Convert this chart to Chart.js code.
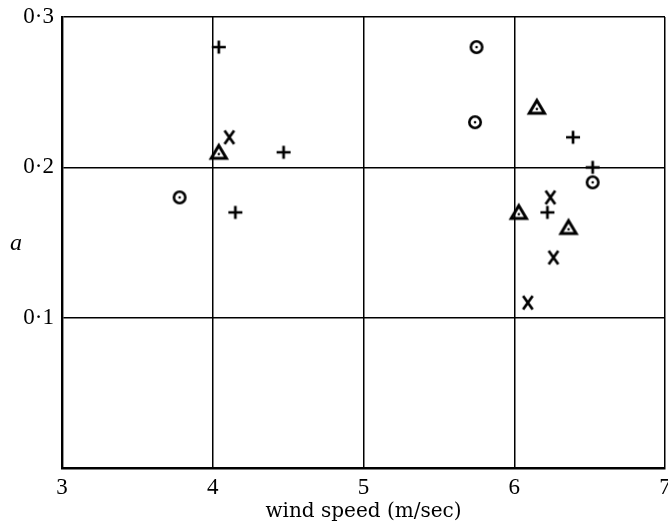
<!DOCTYPE html>
<html>
<head>
<meta charset="utf-8">
<script src="https://cdn.jsdelivr.net/npm/chart.js@4"></script>
<style>
  html, body { margin: 0; padding: 0; background: #fff; }
  #wrap { width: 668px; height: 528px; position: relative; }
</style>
</head>
<body>
<div id="wrap"><canvas id="c"></canvas></div>
<script>
// ---- data ----
const xTickValues = [3, 4, 5, 6, 7];
const yTickLabels = ['', '0·1', '0·2', '0·3'];
const xTitle = 'wind speed (m/sec)';
const yTitle = 'a';

const plusX = [4.04, 4.47, 4.15, 6.39, 6.52, 6.22];
const plusY = [0.28, 0.21, 0.17, 0.22, 0.20, 0.17];

const crossX = [4.11, 6.24, 6.26, 6.09];
const crossY = [0.22, 0.18, 0.14, 0.11];

const circleX = [3.78, 5.75, 5.74, 6.52];
const circleY = [0.18, 0.28, 0.23, 0.19];

const triX = [4.04, 6.15, 6.03, 6.36];
const triY = [0.21, 0.24, 0.17, 0.16];

// ---- marker glyphs ----
function makeMarker(kind) {
  const s = 22;
  const cv = document.createElement('canvas');
  cv.width = s; cv.height = s;
  const g = cv.getContext('2d');
  g.strokeStyle = '#000';
  g.fillStyle = '#000';
  g.lineCap = 'butt';
  const c = s / 2;
  if (kind === 'plus') {
    g.lineWidth = 2.7;
    g.beginPath();
    g.moveTo(c - 7, c); g.lineTo(c + 7, c);
    g.moveTo(c, c - 6.5); g.lineTo(c, c + 6.5);
    g.stroke();
  } else if (kind === 'cross') {
    g.lineWidth = 2.7;
    g.beginPath();
    g.moveTo(c - 4.8, c - 6.8); g.lineTo(c + 4.8, c + 6.8);
    g.moveTo(c + 4.8, c - 6.8); g.lineTo(c - 4.8, c + 6.8);
    g.stroke();
  } else if (kind === 'circle') {
    g.lineWidth = 2.6;
    g.beginPath();
    g.arc(c, c, 5.7, 0, Math.PI * 2);
    g.stroke();
    g.beginPath();
    g.arc(c, c, 1.3, 0, Math.PI * 2);
    g.fill();
  } else if (kind === 'tri') {
    g.lineWidth = 3;
    g.lineJoin = 'miter';
    g.beginPath();
    g.moveTo(c, c - 6.8);
    g.lineTo(c + 7.6, c + 6);
    g.lineTo(c - 7.6, c + 6);
    g.closePath();
    g.stroke();
    g.beginPath();
    g.arc(c, c + 1.8, 1.3, 0, Math.PI * 2);
    g.fill();
  }
  return cv;
}

function toPoints(xs, ys) { return xs.map((x, i) => ({ x: x, y: ys[i] })); }

function ds(xs, ys, kind) {
  return {
    data: toPoints(xs, ys),
    pointStyle: makeMarker(kind),
    pointRadius: 9,
    showLine: false
  };
}

// y-axis title drawn upright, centred on the y scale
const yTitlePlugin = {
  id: 'yTitle',
  afterDraw(chart) {
    const sc = chart.scales.y;
    const ctx = chart.ctx;
    ctx.save();
    ctx.font = 'italic 24px "Liberation Serif", serif';
    ctx.fillStyle = '#000';
    ctx.textAlign = 'center';
    ctx.textBaseline = 'middle';
    ctx.fillText(yTitle, sc.left + 16, (sc.top + sc.bottom) / 2 + 1);
    ctx.restore();
  }
};

function zeroPad(scale) {
  scale.paddingLeft = 0; scale.paddingRight = 0;
  scale.paddingTop = 0; scale.paddingBottom = 0;
}

new Chart(document.getElementById('c'), {
  type: 'scatter',
  data: {
    datasets: [
      ds(plusX, plusY, 'plus'),
      ds(crossX, crossY, 'cross'),
      ds(circleX, circleY, 'circle'),
      ds(triX, triY, 'tri')
    ]
  },
  options: {
    responsive: true,
    maintainAspectRatio: false,
    animation: false,
    events: [],
    layout: { autoPadding: false, padding: { top: 17, right: 3, left: 0, bottom: 0 } },
    plugins: { legend: { display: false }, tooltip: { enabled: false } },
    scales: {
      x: {
        type: 'linear',
        min: xTickValues[0],
        max: xTickValues[xTickValues.length - 1],
        afterBuildTicks: (s) => { s.ticks = xTickValues.map(v => ({ value: v })); },
        ticks: {
          color: '#000',
          padding: 6,
          maxRotation: 0,
          font: { family: '"Liberation Serif", serif', size: 23 },
          callback: (v) => String(v)
        },
        grid: { color: '#000', lineWidth: 1.5, drawTicks: false },
        border: { color: '#000', width: 2.4 },
        title: {
          display: true,
          text: xTitle,
          color: '#000',
          font: { family: '"DejaVu Serif", serif', size: 20 },
          padding: { top: 0, bottom: 4 }
        },
        afterFit: (s) => { s.height = 60; zeroPad(s); }
      },
      y: {
        type: 'linear',
        min: 0,
        max: 0.3,
        afterBuildTicks: (s) => { s.ticks = yTickLabels.map((t, i) => ({ value: i * 0.1 })); },
        ticks: {
          color: '#000',
          padding: 8,
          font: { family: '"Liberation Serif", serif', size: 23 },
          callback: (v, i) => yTickLabels[i]
        },
        grid: { color: '#000', lineWidth: 1.5, drawTicks: false },
        border: { color: '#000', width: 2.4 },
        afterFit: (s) => { s.width = 62; zeroPad(s); }
      }
    }
  },
  plugins: [yTitlePlugin]
});
</script>
</body>
</html>
